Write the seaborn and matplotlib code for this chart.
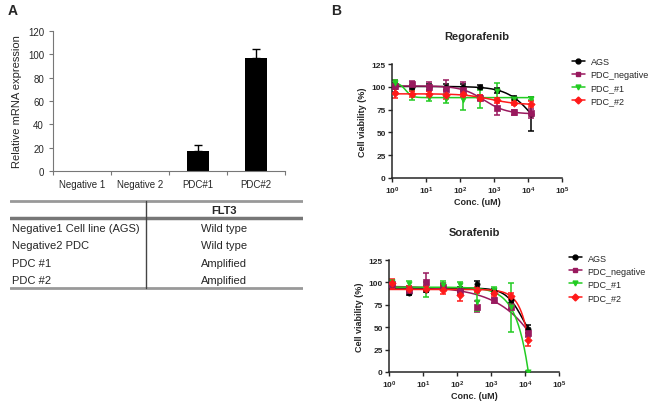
import numpy as np
import pandas as pd
import matplotlib
matplotlib.use("Agg")
import matplotlib.pyplot as plt
import seaborn as sns

# Panel A: relative FLT3 mRNA expression
bar_groups = ["Negative 1", "Negative 2", "PDC#1", "PDC#2"]
bar_values = [0, 0, 17, 97]
bar_errors = [0, 0, 5.5, 7.5]

# table under panel A
table_rows = ["Negative1 Cell line (AGS)", "Negative2 PDC", "PDC #1", "PDC #2"]
table_flt3 = ["Wild type", "Wild type", "Amplified", "Amplified"]

# Panel B: cell viability (%) vs concentration (uM)
conc = [1.25, 3.95, 12.5, 39.5, 125, 395, 1250, 3950, 12500]
lines = ["AGS", "PDC_negative", "PDC_#1", "PDC_#2"]

rego_mean = {
    "AGS":          [101, 100, 100, 100, 100, 100, 96, 88, 70],
    "PDC_negative": [101, 103, 100, 98, 97, 88, 77, 72, 71],
    "PDC_#1":       [104, 90, 88, 87, 86, 87, 95, 87, 87],
    "PDC_#2":       [93, 92, 92, 91, 92, 88, 85, 82, 81],
}
rego_err = {
    "AGS":          [3, 2, 3, 3, 3, 2, 3, 2, 19],
    "PDC_negative": [7, 3, 5, 9, 8, 3, 8, 3, 5],
    "PDC_#1":       [3, 5, 4, 5, 11, 10, 9, 2, 2],
    "PDC_#2":       [5, 3, 3, 4, 3, 3, 3, 2, 3],
}
sora_mean = {
    "AGS":          [98, 88, 92, 95, 92, 98, 90, 80, 48],
    "PDC_negative": [98, 92, 100, 95, 90, 73, 80, 73, 43],
    "PDC_#1":       [100, 98, 92, 97, 97, 78, 92, 72, 0],
    "PDC_#2":       [99, 93, 93, 92, 86, 92, 88, 85, 36],
}
sora_err = {
    "AGS":          [3, 2, 3, 3, 3, 4, 3, 3, 5],
    "PDC_negative": [4, 4, 10, 4, 4, 6, 3, 3, 4],
    "PDC_#1":       [3, 4, 8, 5, 4, 10, 3, 27, 1],
    "PDC_#2":       [5, 3, 3, 5, 7, 3, 3, 3, 7],
}

colors = {"AGS": "#000000", "PDC_negative": "#99195E",
          "PDC_#1": "#22CC22", "PDC_#2": "#FF1A1A"}
markers = {"AGS": "o", "PDC_negative": "s", "PDC_#1": "v", "PDC_#2": "D"}

sns.set_style("ticks")
plt.rcParams["font.family"] = ["Liberation Sans", "DejaVu Sans"]
plt.rcParams["mathtext.fontset"] = "custom"
plt.rcParams["mathtext.rm"] = "Liberation Sans"
plt.rcParams["mathtext.bf"] = "Liberation Sans:bold"


def fit_4pl(x, y):
    # crude grid search for a 4-parameter logistic curve, top/bottom by least squares
    lx = np.log10(x)
    y = np.asarray(y, float)
    best = None
    for c in np.linspace(-1, 6, 141):
        for h in np.linspace(0.3, 5, 48):
            s = 1 / (1 + 10 ** ((lx - c) * h))
            A = np.column_stack([s, 1 - s])
            coef = np.linalg.lstsq(A, y, rcond=None)[0]
            sse = ((A @ coef - y) ** 2).sum()
            if best is None or sse < best[0]:
                best = (sse, c, h, coef)
    _, c, h, (top, bot) = best
    return lambda xx: bot + (top - bot) / (1 + 10 ** ((np.log10(xx) - c) * h))


fig = plt.figure(figsize=(6.5, 4.02), dpi=100)

# ---- panel A bar chart
axA = fig.add_axes([53 / 650, 1 - 172 / 402, 232 / 650, 140 / 402])
dfA = pd.DataFrame({"group": bar_groups, "value": bar_values})
sns.barplot(data=dfA, x="group", y="value", color="black", width=0.38,
            saturation=1, ax=axA, linewidth=0)
idx = [i for i, e in enumerate(bar_errors) if e > 0]
axA.errorbar(idx, [bar_values[i] for i in idx],
             yerr=[np.zeros(len(idx)), [bar_errors[i] for i in idx]],
             fmt="none", ecolor="black", elinewidth=1, capsize=3)
axA.set_ylim(0, 120)
axA.set_xlim(-0.5, 3.5)
axA.set_yticks(range(0, 121, 20))
axA.set_xlabel("")
axA.set_ylabel("Relative mRNA expression", fontsize=8)
axA.set_xticks(np.arange(-0.5, 4, 1), minor=True)
axA.tick_params(axis="x", which="major", length=0, labelsize=7, pad=6)
axA.tick_params(axis="x", which="minor", length=3, width=0.8, color="#777777")
axA.tick_params(axis="y", labelsize=7, length=3, width=0.8, color="#777777")
for sp in ["top", "right"]:
    axA.spines[sp].set_visible(False)
for sp in ["left", "bottom"]:
    axA.spines[sp].set_color("#777777")
    axA.spines[sp].set_linewidth(0.8)

# ---- table
axT = fig.add_axes([10 / 650, 1 - 292 / 402, 293 / 650, 97 / 402])
axT.set_xlim(10, 303)
axT.set_ylim(292, 195)
axT.axis("off")
axT.plot([10, 303], [201.5, 201.5], color="#999999", lw=2)
axT.plot([10, 303], [219, 219], color="#777777", lw=2.5)
axT.plot([10, 303], [289, 289], color="#999999", lw=2)
axT.plot([146, 146], [201.5, 289], color="#444444", lw=1)
axT.text(224, 210.5, "FLT3", ha="center", va="center", fontsize=8, fontweight="bold")
for i, (r, v) in enumerate(zip(table_rows, table_flt3)):
    yy = 229 + i * 17.3
    axT.text(12, yy, r, ha="left", va="center", fontsize=8)
    axT.text(224, yy, v, ha="center", va="center", fontsize=8)


# ---- panel B dose-response
def dose_panel(rect, title, means, errs):
    ax = fig.add_axes(rect)
    xx = np.logspace(0, np.log10(conc[-1]), 300)
    for name in lines:
        curve = fit_4pl(conc, means[name])
        ax.plot(xx, curve(xx), color=colors[name], lw=1.1)
        ax.errorbar(conc, means[name], yerr=errs[name], fmt="none",
                    ecolor=colors[name], elinewidth=1.1, capsize=2, capthick=1.1)
        sns.scatterplot(x=conc, y=means[name], marker=markers[name],
                        color=colors[name], s=14, edgecolor=colors[name],
                        linewidth=0.5, ax=ax, zorder=5)
    handles = [plt.Line2D([], [], color=colors[n], marker=markers[n], markersize=3.5,
                          lw=1.1) for n in lines]
    ax.legend(handles, lines, loc="upper left", bbox_to_anchor=(1.035, 1.09),
              frameon=False, fontsize=6.5, handlelength=1.5, handletextpad=0.6,
              labelspacing=0.45, borderaxespad=0)
    ax.set_xscale("log")
    ax.set_xlim(1, 1e5)
    ax.set_ylim(0, 125)
    ax.set_xticks([10 ** k for k in range(6)])
    ax.set_xticklabels([r"$\mathbf{10^{%d}}$" % k for k in range(6)])
    ax.xaxis.set_minor_locator(matplotlib.ticker.NullLocator())
    ax.set_yticks(range(0, 126, 25))
    ax.tick_params(labelsize=6, length=3, width=1, pad=1.5)
    for lab in ax.get_yticklabels():
        lab.set_fontweight("bold")
    ax.set_xlabel("Conc. (uM)", fontsize=6.5, fontweight="bold", labelpad=1)
    ax.set_ylabel("Cell viability (%)", fontsize=6.5, fontweight="bold", labelpad=3)
    ax.set_title(title, fontsize=8, fontweight="bold", pad=18)
    for sp in ["top", "right"]:
        ax.spines[sp].set_visible(False)
    for sp in ["left", "bottom"]:
        ax.spines[sp].set_linewidth(1.1)
    return ax


dose_panel([392 / 650, 1 - 179 / 402, 170 / 650, 114 / 402], "Regorafenib",
           rego_mean, rego_err)
dose_panel([389 / 650, 1 - 373 / 402, 170 / 650, 112 / 402], "Sorafenib",
           sora_mean, sora_err)

fig.text(8 / 650, 1 - 11 / 402, "A", fontsize=10, fontweight="bold", va="center")
fig.text(331 / 650, 1 - 11 / 402, "B", fontsize=10, fontweight="bold", va="center")

fig.savefig("out.png", dpi=100)
